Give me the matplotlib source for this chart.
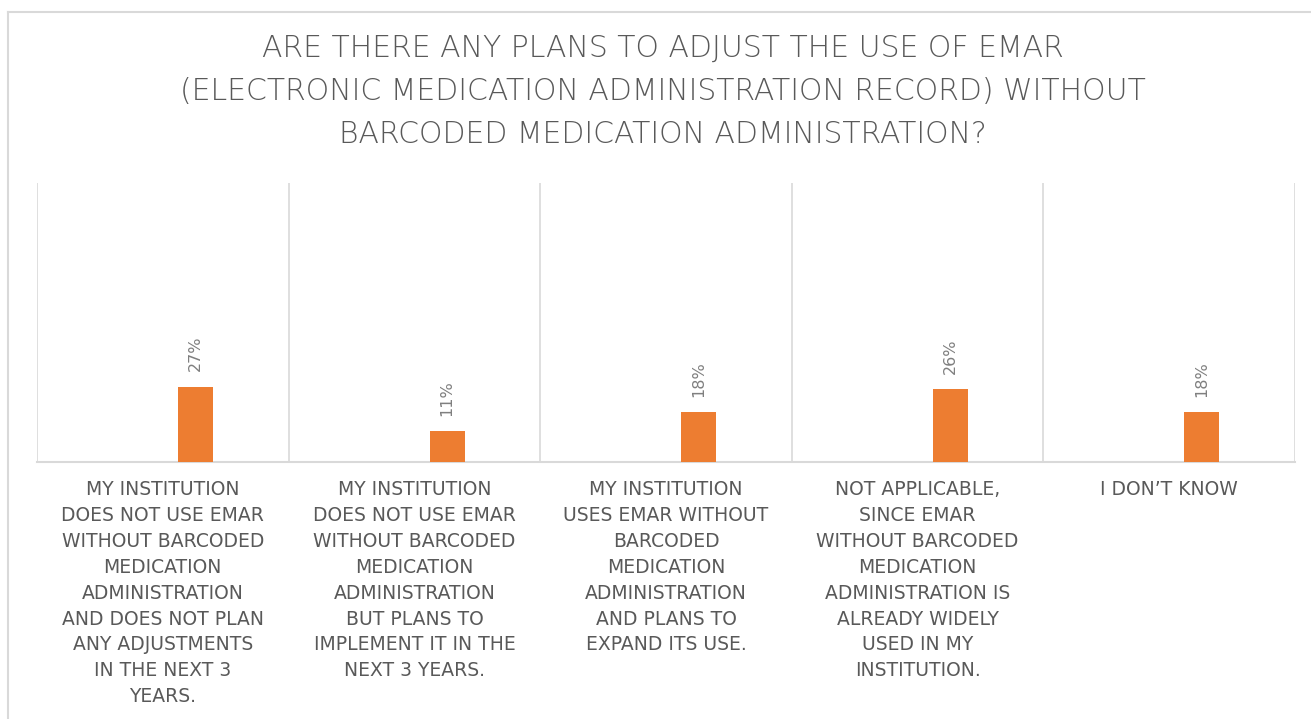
import matplotlib
matplotlib.use("Agg")
import matplotlib.pyplot as plt
from matplotlib.lines import Line2D

# survey answers (wrapped the way they appear under the axis)
categories = [
    "MY INSTITUTION\nDOES NOT USE EMAR\nWITHOUT BARCODED\nMEDICATION\nADMINISTRATION\nAND DOES NOT PLAN\nANY ADJUSTMENTS\nIN THE NEXT 3\nYEARS.",
    "MY INSTITUTION\nDOES NOT USE EMAR\nWITHOUT BARCODED\nMEDICATION\nADMINISTRATION\nBUT PLANS TO\nIMPLEMENT IT IN THE\nNEXT 3 YEARS.",
    "MY INSTITUTION\nUSES EMAR WITHOUT\nBARCODED\nMEDICATION\nADMINISTRATION\nAND PLANS TO\nEXPAND ITS USE.",
    "NOT APPLICABLE,\nSINCE EMAR\nWITHOUT BARCODED\nMEDICATION\nADMINISTRATION IS\nALREADY WIDELY\nUSED IN MY\nINSTITUTION.",
    "I DON\u2019T KNOW",
]
shares = [0.27, 0.11, 0.18, 0.26, 0.18]

title = ("ARE THERE ANY PLANS TO ADJUST THE USE OF EMAR\n"
         "(ELECTRONIC MEDICATION ADMINISTRATION RECORD) WITHOUT\n"
         "BARCODED MEDICATION ADMINISTRATION?")

W, H = 1311, 719
fig = plt.figure(figsize=(W / 100, H / 100), dpi=100)
fig.patch.set_facecolor("white")

# chart frame (left and top edges visible)
bx, by = 8 / W, 1 - 12 / H
fig.add_artist(Line2D([bx, bx], [0, by], color="#d9d9d9", lw=1.5, transform=fig.transFigure))
fig.add_artist(Line2D([bx, 1], [by, by], color="#d9d9d9", lw=1.5, transform=fig.transFigure))

ax = fig.add_axes([37 / W, 1 - 462 / H, (1295 - 37) / W, (462 - 183) / H])
x = list(range(len(categories)))
bar_x = [i + 0.13 for i in x]
bars = ax.bar(bar_x, shares, width=0.139, color="#ED7D31", zorder=3)

ax.set_xlim(-0.5, len(categories) - 0.5)
ax.set_ylim(0, 1)
ax.set_yticks([])

# category separators
for b in range(len(categories) + 1):
    ax.axvline(b - 0.5, color="#d9d9d9", lw=1.2, zorder=1)

for s in ["top", "right", "left"]:
    ax.spines[s].set_visible(False)
ax.spines["bottom"].set_color("#d9d9d9")
ax.spines["bottom"].set_linewidth(1.5)

ax.set_xticks(x)
ax.set_xticklabels(categories, fontsize=13.5, color="#595959",
                   linespacing=1.46, va="top")
ax.tick_params(axis="x", length=0, pad=13)

for rect, v in zip(bars, shares):
    ax.annotate(f"{v:.0%}", (rect.get_x() + rect.get_width() / 2, rect.get_height()),
                xytext=(0, 11), textcoords="offset points", rotation=90,
                ha="center", va="bottom", fontsize=11.5, color="#7f7f7f")

fig.text(663 / W, 1 - 91.5 / H, title, ha="center", va="center",
         fontsize=21.5, color="#595959", linespacing=1.6, fontweight="light")

fig.savefig("out.png", dpi=100)
